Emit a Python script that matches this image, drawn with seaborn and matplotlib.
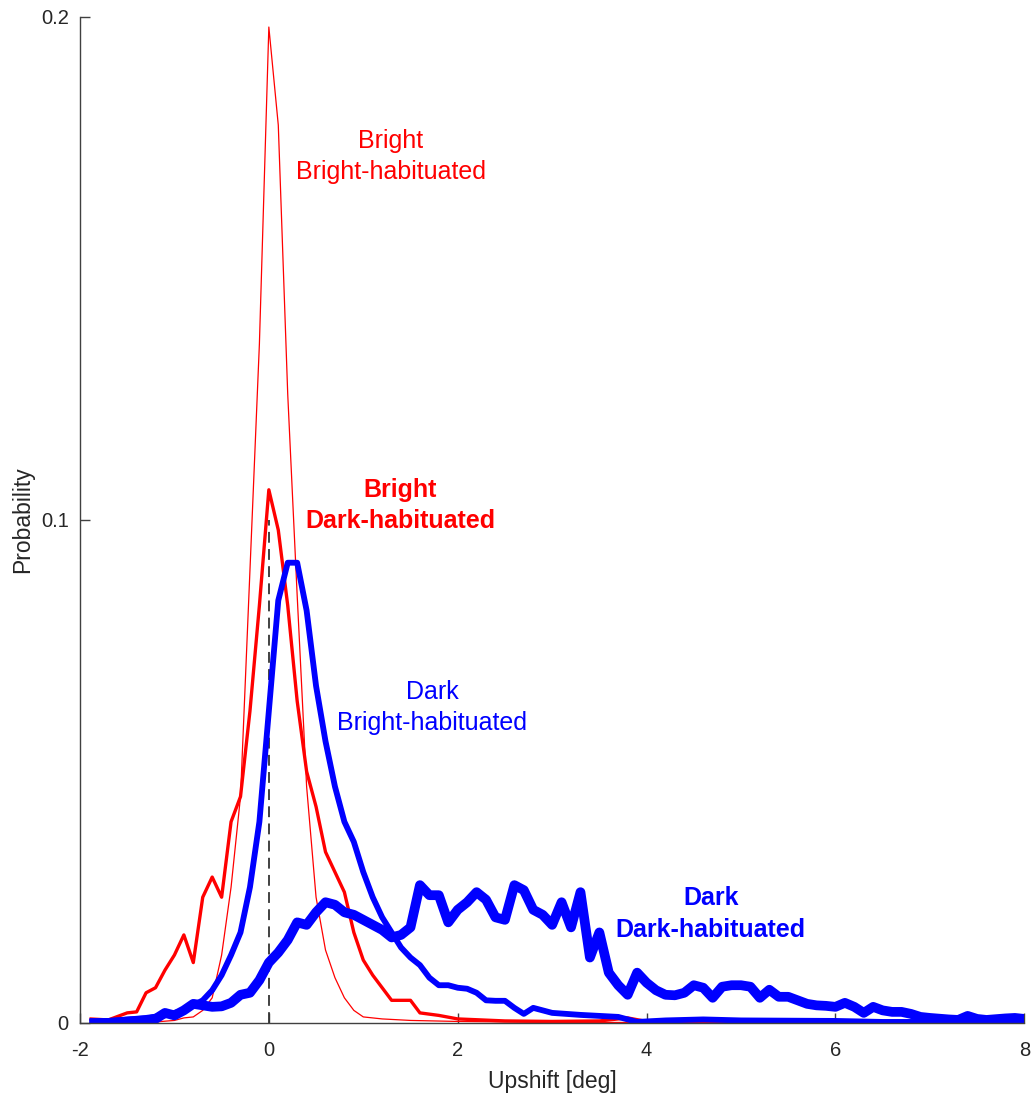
import matplotlib
matplotlib.use("Agg")
import matplotlib.pyplot as plt
import seaborn as sns
import pandas as pd

# Upshift histograms (probability per bin) for four stimulus / habituation conditions

# Bright stimulus, bright-habituated
bb_x = [-1.9, -1.5, -1.2, -1.0, -0.9, -0.8, -0.7, -0.6, -0.5, -0.4, -0.3, -0.2, -0.1,
        0.0, 0.1, 0.2, 0.3, 0.4, 0.5, 0.6, 0.7, 0.8, 0.9, 1.0, 1.2, 1.5, 2.0, 3.0,
        4.0, 6.0, 8.0]
bb_y = [0.0, 0.0001, 0.0002, 0.0005, 0.001, 0.0012, 0.0025, 0.005, 0.0135, 0.027,
        0.045, 0.09, 0.135, 0.198, 0.1785, 0.125, 0.085, 0.047, 0.025, 0.0145,
        0.009, 0.005, 0.0025, 0.0012, 0.0008, 0.0005, 0.0003, 0.0001, 0.0001,
        0.0001, 0.0001]

# Bright stimulus, dark-habituated
bd_x = [-1.9, -1.7, -1.5, -1.4, -1.3, -1.2, -1.1, -1.0, -0.9, -0.8, -0.7, -0.6,
        -0.5, -0.4, -0.3, -0.2, -0.1, 0.0, 0.1, 0.2, 0.3, 0.4, 0.5, 0.6, 0.7, 0.8,
        0.9, 1.0, 1.1, 1.2, 1.3, 1.4, 1.5, 1.6, 1.8, 2.0, 2.5, 3.0, 3.5, 3.8, 4.0,
        5.0, 6.0, 8.0]
bd_y = [0.0008, 0.0006, 0.002, 0.0022, 0.006, 0.007, 0.0105, 0.0135, 0.0175,
        0.012, 0.025, 0.029, 0.025, 0.040, 0.045, 0.062, 0.083, 0.106, 0.098,
        0.083, 0.064, 0.050, 0.043, 0.034, 0.030, 0.026, 0.018, 0.0125, 0.0095,
        0.007, 0.0045, 0.0045, 0.0045, 0.002, 0.0015, 0.0008, 0.0004, 0.0003,
        0.0004, 0.001, 0.0003, 0.0002, 0.0002, 0.0002]

# Dark stimulus, bright-habituated
db_x = [-1.9, -1.6, -1.3, -1.1, -0.9, -0.7, -0.6, -0.5, -0.4, -0.3, -0.2, -0.1,
        0.0, 0.1, 0.2, 0.3, 0.4, 0.5, 0.6, 0.7, 0.8, 0.9, 1.0, 1.1, 1.2, 1.3, 1.4,
        1.5, 1.6, 1.7, 1.8, 1.9, 2.0, 2.1, 2.2, 2.3, 2.4, 2.5, 2.6, 2.7, 2.8, 2.9,
        3.0, 3.3, 3.7, 3.9, 4.2, 4.6, 5.0, 6.0, 6.5, 7.0, 8.0]
db_y = [0.0002, 0.0005, 0.001, 0.0015, 0.0025, 0.0045, 0.0065, 0.0095, 0.0135,
        0.018, 0.027, 0.040, 0.062, 0.084, 0.0915, 0.0915, 0.082, 0.067, 0.056,
        0.047, 0.040, 0.036, 0.030, 0.025, 0.021, 0.018, 0.015, 0.013, 0.0115,
        0.009, 0.0075, 0.0075, 0.007, 0.0068, 0.006, 0.0045, 0.0044, 0.0044,
        0.003, 0.0018, 0.003, 0.0025, 0.002, 0.0016, 0.0012, 0.0002, 0.0005,
        0.0007, 0.0005, 0.0004, 0.0002, 0.0002, 0.0004]

# Dark stimulus, dark-habituated
dd_x = [-1.9, -1.7, -1.5, -1.3, -1.2, -1.1, -1.0, -0.9, -0.8, -0.7, -0.6, -0.5,
        -0.4, -0.3, -0.2, -0.1, 0.0, 0.1, 0.2, 0.3, 0.4, 0.5, 0.6, 0.7, 0.8, 0.9,
        1.0, 1.1, 1.2, 1.3, 1.4, 1.5, 1.6, 1.7, 1.8, 1.9, 2.0, 2.1, 2.2, 2.3, 2.4,
        2.5, 2.6, 2.7, 2.8, 2.9, 3.0, 3.1, 3.2, 3.3, 3.4, 3.5, 3.6, 3.7, 3.8, 3.9,
        4.0, 4.1, 4.2, 4.3, 4.4, 4.5, 4.6, 4.7, 4.8, 4.9, 5.0, 5.1, 5.2, 5.3, 5.4,
        5.5, 5.6, 5.7, 5.8, 5.9, 6.0, 6.1, 6.2, 6.3, 6.4, 6.5, 6.6, 6.7, 6.8, 6.9,
        7.0, 7.2, 7.3, 7.4, 7.5, 7.6, 7.8, 7.9, 8.0]
dd_y = [0.0, 0.0, 0.0003, 0.0005, 0.0008, 0.002, 0.0015, 0.0025, 0.0038, 0.0035,
        0.0032, 0.0033, 0.004, 0.0056, 0.006, 0.0085, 0.012, 0.014, 0.0165, 0.020,
        0.0195, 0.022, 0.024, 0.0235, 0.022, 0.0215, 0.0205, 0.0195, 0.0185, 0.017,
        0.0175, 0.019, 0.0274, 0.0254, 0.0254, 0.020, 0.0225, 0.024, 0.026, 0.0245,
        0.021, 0.0205, 0.0274, 0.0264, 0.0225, 0.0215, 0.0195, 0.024, 0.019, 0.026,
        0.013, 0.018, 0.010, 0.0075, 0.0056, 0.010, 0.008, 0.0065, 0.0056, 0.0055,
        0.006, 0.0075, 0.007, 0.005, 0.0072, 0.0075, 0.0075, 0.0072, 0.005, 0.0066,
        0.0052, 0.0052, 0.0045, 0.0038, 0.0035, 0.0034, 0.0032, 0.004, 0.0032,
        0.002, 0.0032, 0.0025, 0.0022, 0.0022, 0.0018, 0.0012, 0.001, 0.0007,
        0.0006, 0.0014, 0.0008, 0.0006, 0.0009, 0.001, 0.0008]

x_ticks = [-2, 0, 2, 4, 6, 8]
y_ticks = [0, 0.1, 0.2]
y_ticklabels = ["0", "0.1", "0.2"]

sns.set_style("ticks")
plt.rcParams["font.family"] = ["Liberation Sans", "DejaVu Sans"]

axis_grey = "#404040"
text_grey = "#262626"

fig = plt.figure(figsize=(10.36, 10.95), dpi=100)
ax = fig.add_axes([0.0772, 0.0658, 0.9115, 0.9187])

series = [
    (bb_x, bb_y, "red", 0.9),
    (bd_x, bd_y, "red", 2.4),
    (db_x, db_y, "blue", 4.2),
    (dd_x, dd_y, "blue", 7.0),
]
for xs, ys, col, lw in series:
    df = pd.DataFrame({"upshift": xs, "prob": ys})
    sns.lineplot(data=df, x="upshift", y="prob", color=col, linewidth=lw,
                 sort=False, ax=ax, solid_joinstyle="round",
                 solid_capstyle="butt")

# reference line at zero upshift
ax.plot([0, 0], [0, 0.1], color="#333333", linestyle=(0, (6, 3.5)),
        linewidth=1.3, zorder=1)

ax.set_xlim(-2, 8)
ax.set_ylim(0, 0.2)
ax.set_xticks(x_ticks)
ax.set_xticklabels([str(t) for t in x_ticks])
ax.set_yticks(y_ticks)
ax.set_yticklabels(y_ticklabels)
ax.tick_params(direction="in", length=7, width=1, colors=axis_grey,
               labelcolor=text_grey, labelsize=14.5)
ax.tick_params(axis="x", pad=13)
ax.tick_params(axis="y", pad=8)
for side in ("top", "right"):
    ax.spines[side].set_visible(False)
for side in ("left", "bottom"):
    ax.spines[side].set_color(axis_grey)
    ax.spines[side].set_linewidth(1)

ax.set_xlabel("Upshift [deg]", fontsize=16.5, color=text_grey, labelpad=7)
ax.set_ylabel("Probability", fontsize=16.5, color=text_grey, labelpad=5)

ax.text(1.29, 0.1723, "Bright\nBright-habituated", color="red", fontsize=18,
        ha="center", va="center", linespacing=1.4)
ax.text(1.39, 0.1029, "Bright\nDark-habituated", color="red", fontsize=18,
        fontweight="bold", ha="center", va="center", linespacing=1.4)
ax.text(1.73, 0.0627, "Dark\nBright-habituated", color="blue", fontsize=18,
        ha="center", va="center", linespacing=1.4)
ax.text(4.68, 0.0217, "Dark\nDark-habituated", color="blue", fontsize=18,
        fontweight="bold", ha="center", va="center", linespacing=1.4)

fig.savefig("out.png", dpi=100)
